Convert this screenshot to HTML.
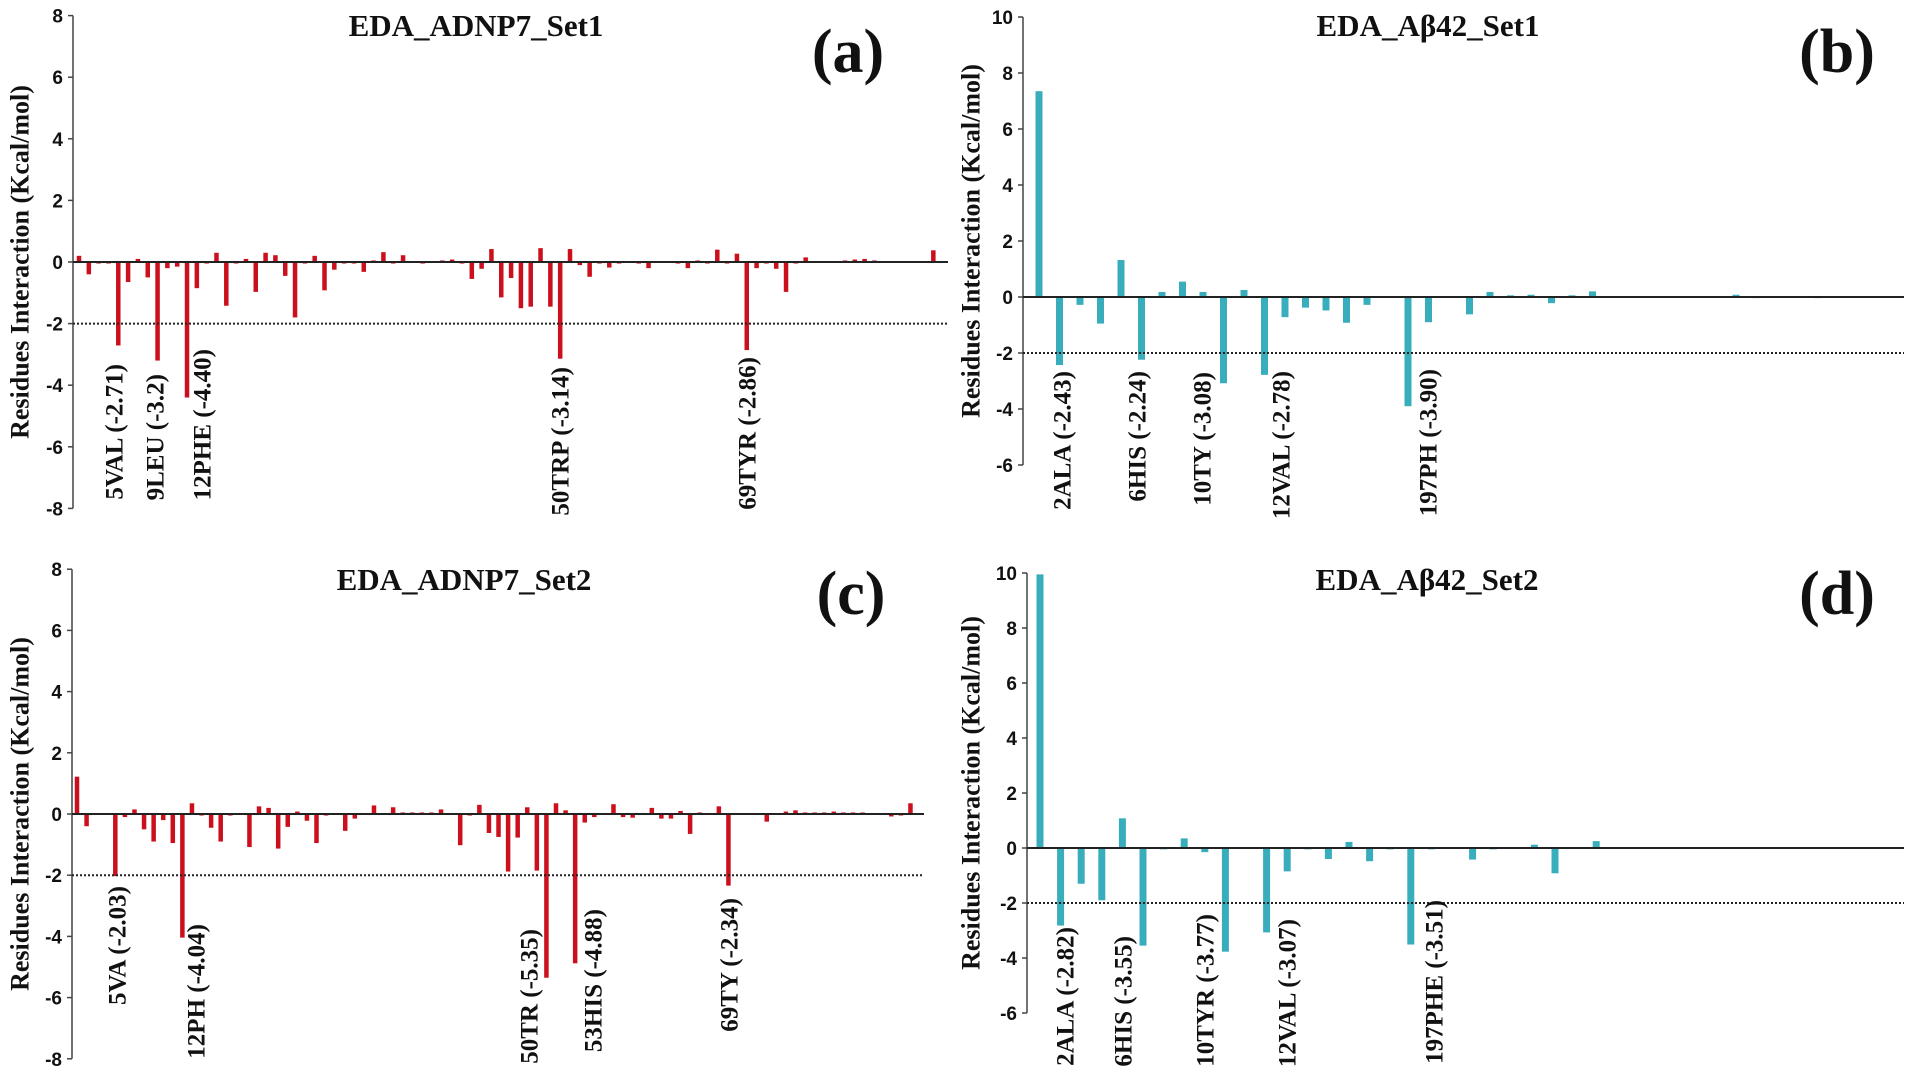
<!DOCTYPE html>
<html><head><meta charset="utf-8"><style>
html,body{margin:0;padding:0;background:#fff;}
svg{display:block;}
.tick{font-family:"Liberation Sans",sans-serif;font-weight:bold;font-size:19px;fill:#111;}
.ttl{font-family:"Liberation Serif",serif;font-weight:bold;font-size:31px;fill:#111;}
.pl{font-family:"Liberation Serif",serif;font-weight:bold;font-size:62px;fill:#111;}
.yt{font-family:"Liberation Serif",serif;font-weight:bold;font-size:26px;fill:#111;}
.lab{font-family:"Liberation Serif",serif;font-weight:bold;font-size:25px;fill:#111;}
</style></head><body>
<svg id="fig" width="1905" height="1075" viewBox="0 0 1905 1075" xmlns="http://www.w3.org/2000/svg"></svg>
<script>
// ---- data ----
const aValues = [0.2,-0.4,-0.05,-0.05,-2.71,-0.65,0.1,-0.5,-3.2,-0.2,-0.15,-4.4,-0.85,-0.05,0.3,-1.42,-0.05,0.1,-0.97,0.3,0.22,-0.45,-1.8,-0.05,0.2,-0.92,-0.25,-0.05,-0.05,-0.32,0.05,0.32,-0.05,0.22,-0.03,-0.05,0.03,0.05,0.08,-0.05,-0.55,-0.22,0.42,-1.15,-0.52,-1.5,-1.45,0.45,-1.45,-3.14,0.42,-0.1,-0.48,-0.05,-0.18,-0.05,-0.03,-0.05,-0.2,0.03,0.03,-0.05,-0.2,0.05,-0.05,0.4,-0.05,0.27,-2.86,-0.2,-0.05,-0.22,-0.97,-0.05,0.15,-0.03,0.03,0.03,0.05,0.08,0.1,0.05,0.03,0.03,0.03,0.03,0.03,0.38];
const bValues = [7.35,-2.43,-0.28,-0.95,1.32,-2.24,0.18,0.55,0.18,-3.08,0.25,-2.78,-0.72,-0.38,-0.48,-0.92,-0.28,0,-3.9,-0.9,0,-0.62,0.18,0.06,0.08,-0.22,0.06,0.2,0,0.02,0,0,0,0,0.08,-0.04,0,0,-0.04,0,0,0];
const cValues = [1.22,-0.4,-0.03,-0.03,-2.03,-0.1,0.15,-0.5,-0.9,-0.2,-0.95,-4.04,0.35,-0.05,-0.45,-0.9,-0.05,0.03,-1.08,0.25,0.2,-1.13,-0.42,0.08,-0.22,-0.95,-0.05,0.03,-0.55,-0.15,0.03,0.28,0.03,0.22,0.05,0.05,0.05,0.05,0.15,0.03,-1.02,-0.05,0.3,-0.62,-0.75,-1.88,-0.77,0.22,-1.85,-5.35,0.35,0.12,-4.88,-0.28,-0.1,0.03,0.32,-0.1,-0.12,0.03,0.2,-0.15,-0.15,0.1,-0.65,0.05,-0.03,0.25,-2.34,-0.03,0.03,-0.03,-0.25,0.03,0.08,0.12,0.05,0.05,0.05,0.08,0.05,0.05,0.05,0.03,0.03,-0.08,-0.05,0.35];
const dValues = [9.95,-2.82,-1.3,-1.9,1.08,-3.55,-0.05,0.35,-0.15,-3.77,0,-3.07,-0.85,-0.05,-0.4,0.22,-0.48,-0.05,-3.51,-0.05,0.02,-0.42,-0.05,0,0.12,-0.92,0.03,0.25,0,0,0,0,0,0,0,0,0,0,0,0,0,0];
const adnpTicks = [8,6,4,2,0,-2,-4,-6,-8];
const abTicks = [10,8,6,4,2,0,-2,-4,-6];
const aLabels = ["5VAL (-2.71)","9LEU (-3.2)","12PHE (-4.40)","50TRP (-3.14)","69TYR (-2.86)"];
const bLabels = ["2ALA (-2.43)","6HIS (-2.24)","10TY (-3.08)","12VAL (-2.78)","197PH (-3.90)"];
const cLabels = ["5VA (-2.03)","12PH (-4.04)","50TR (-5.35)","53HIS (-4.88)","69TY (-2.34)"];
const dLabels = ["2ALA (-2.82)","6HIS (-3.55)","10TYR (-3.77)","12VAL (-3.07)","197PHE (-3.51)"];
const titles = ["EDA_ADNP7_Set1","EDA_A\u03B242_Set1","EDA_ADNP7_Set2","EDA_A\u03B242_Set2"];
const threshold = -2;

// ---- layout ----
const NS="http://www.w3.org/2000/svg";
const svg=document.getElementById('fig');
function mk(tag,attrs,parent){const e=document.createElementNS(NS,tag);for(const k in attrs)e.setAttribute(k,attrs[k]);(parent||svg).appendChild(e);return e;}

const panels=[
 {id:'a',vals:aValues,ticks:adnpTicks,labels:aLabels,color:'#cc0f1c',ax:73,x0:79,dx:9.82,bw:4.5,yTop:17,yZero:262,unit:30.8,right:948,
  title:[476,36],pl:[848,72],ytx:20,
  lab:[[115,364],[156,374],[203,349],[561,367],[748,357]]},
 {id:'b',vals:bValues,ticks:abTicks,labels:bLabels,color:'#38adbc',ax:1023,x0:1039,dx:20.5,bw:7,yTop:19,yZero:297,unit:28,right:1904,
  title:[1428,36],pl:[1837,72],ytx:971,
  lab:[[1063,371],[1138,371],[1203,372],[1282,371],[1429,369]]},
 {id:'c',vals:cValues,ticks:adnpTicks,labels:cLabels,color:'#cc0f1c',ax:72,x0:77,dx:9.58,bw:4.5,yTop:569,yZero:814,unit:30.6,right:924,
  title:[464,590],pl:[851,614],ytx:20,
  lab:[[118,886],[197,924],[530,929],[594,909],[730,898]]},
 {id:'d',vals:dValues,ticks:abTicks,labels:dLabels,color:'#38adbc',ax:1027,x0:1040,dx:20.6,bw:7,yTop:573,yZero:848,unit:27.5,right:1904,
  title:[1427,590],pl:[1837,614],ytx:971,
  lab:[[1066,927],[1124,936],[1206,914],[1288,919],[1435,900]]}
];

panels.forEach((p,pi)=>{
  const g=mk('g',{});
  
  
  const y=v=>p.yZero - v*p.unit;
  const x=i=>p.x0 + i*p.dx;
  const yMin=p.ticks[p.ticks.length-1], yMax=p.ticks[0];
  const axl=mk('line',{x1:p.ax,y1:y(yMax),x2:p.ax,y2:y(yMin),stroke:'#444','stroke-width':1.5},g);
  
  
  p.ticks.forEach(t=>{
    const tl=mk('line',{x1:p.ax-5,y1:y(t),x2:p.ax,y2:y(t),stroke:'#444','stroke-width':1.5},g);
    
    
    const tx=mk('text',{x:p.ax-10,y:y(t)+7,'text-anchor':'end',class:'tick'},g);
    tx.textContent=String(t);
    
    
  });
  p.vals.forEach((v,i)=>{
    const top=Math.min(y(v),y(0)), h=Math.abs(y(v)-y(0));
    const r=mk('rect',{x:x(i)-p.bw/2,y:top,width:p.bw,height:Math.max(h,0.6),fill:p.color},g);
    
    
  });
  const zl=mk('line',{x1:p.ax,y1:y(0),x2:p.right,y2:y(0),stroke:'#222','stroke-width':2},g);
  
  
  const th=mk('line',{x1:p.ax,y1:y(threshold),x2:p.right,y2:y(threshold),stroke:'#222','stroke-width':2,'stroke-dasharray':'2 2'},g);
  
  
  const tt=mk('text',{x:p.title[0],y:p.title[1],'text-anchor':'middle',class:'ttl'},g);
  tt.textContent=titles[pi];
  
  
  const pl=mk('text',{x:p.pl[0],y:p.pl[1],'text-anchor':'middle',class:'pl'},g);
  pl.textContent='('+p.id+')';
  
  
  const yc=(y(yMax)+y(yMin))/2;
  const yt=mk('text',{transform:'translate('+p.ytx+','+yc+') rotate(-90)','text-anchor':'middle','dominant-baseline':'central',class:'yt'},g);
  yt.textContent='Residues Interaction (Kcal/mol)';
  
  
  p.labels.forEach((s,k)=>{
    const pos=p.lab[k];
    const lt=mk('text',{transform:'translate('+pos[0]+','+pos[1]+') rotate(-90)','text-anchor':'end','dominant-baseline':'central',class:'lab'},g);
    lt.textContent=s;
    
    
  });
});
</script>
</body></html>
